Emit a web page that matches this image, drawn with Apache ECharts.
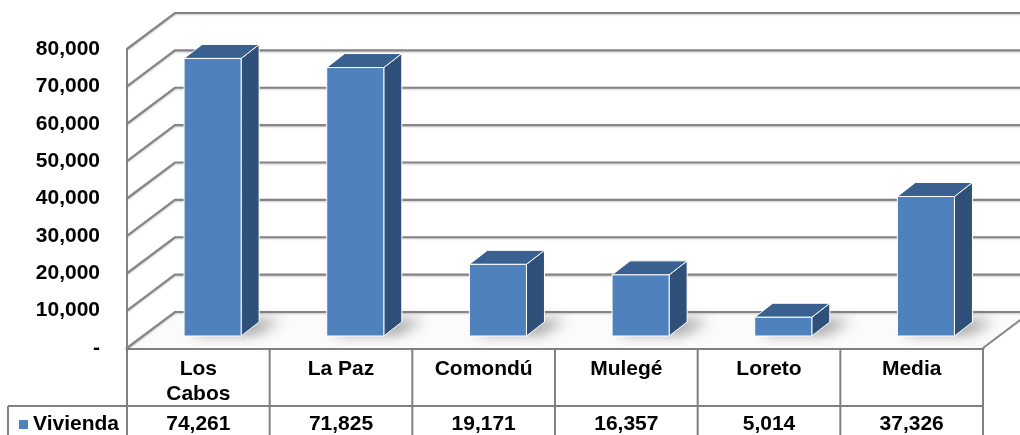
<!DOCTYPE html>
<html>
<head>
<meta charset="utf-8">
<script src="https://cdn.jsdelivr.net/npm/echarts@6/dist/echarts.min.js"></script>
<style>
html,body{margin:0;padding:0;background:#fff}
#main{width:1020px;height:435px}
</style>
</head>
<body>
<div id="main"></div>
<script>
// datos
const categories = ['Los Cabos', 'La Paz', 'Comondú', 'Mulegé', 'Loreto', 'Media'];
const vivienda = [74261, 71825, 19171, 16357, 5014, 37326];
const yTicks = [0, 10000, 20000, 30000, 40000, 50000, 60000, 70000, 80000];
const seriesName = 'Vivienda';

const FONT = "'Liberation Sans', Arial, sans-serif";
const GRID_COLOR = '#858585';
// profundidad de las paredes (efecto 3D)
const WALL_DX = 48, WALL_DY = -36;
// profundidad de las barras
const BAR_DX = 18, BAR_DY = -14, BAR_SHIFT = 12;

const fmt = v => v.toLocaleString('en-US');

const chart = echarts.init(document.getElementById('main'));

// paredes y piso
function renderWalls(params, api) {
    const cs = params.coordSys;
    const v = api.value(1);
    const y = api.coord([0, v])[1];
    const gx = cs.x;
    const right = cs.x + cs.width;
    const children = [];
    if (v === 0) {
        children.push({
            type: 'polygon',
            shape: {points: [[gx, y], [right, y], [right + WALL_DX, y + WALL_DY], [gx + WALL_DX, y + WALL_DY]]},
            style: {fill: '#fbfbfb'}
        });
        children.push({
            type: 'line',
            shape: {x1: right, y1: y, x2: right + WALL_DX, y2: y + WALL_DY},
            style: {stroke: GRID_COLOR, lineWidth: 2}
        });
    }
    children.push({
        type: 'polyline',
        shape: {points: [[gx, y], [gx + WALL_DX, y + WALL_DY], [right + WALL_DX, y + WALL_DY]]},
        style: {
            stroke: GRID_COLOR, lineWidth: 2.2, fill: null,
            shadowColor: 'rgba(0,0,0,0.2)', shadowBlur: 2, shadowOffsetY: 1
        }
    });
    return {type: 'group', children: children};
}

// barras 3D
function renderBar(params, api) {
    const i = api.value(0);
    const v = api.value(1);
    const top = api.coord([i, v]);
    const base = api.coord([i, 0]);
    const w = api.size([1, 0])[0];
    const x0 = base[0] - w * 0.1;
    const x1 = x0 + w * 0.4;
    const y0 = base[1] - BAR_SHIFT;
    const y1 = top[1] - BAR_SHIFT;
    const edge = {stroke: '#ffffff', lineWidth: 1};
    const OFF = 3000;
    return {
        type: 'group',
        children: [
            {
                // sombra difusa sobre el piso
                type: 'polygon',
                shape: {points: [
                    [x0 + 6 - OFF, y0 - 2], [x1 + 14 - OFF, y0 - 2],
                    [x1 + BAR_DX + 22 - OFF, y0 + BAR_DY - 2], [x0 + BAR_DX + 6 - OFF, y0 + BAR_DY - 2]
                ]},
                style: {fill: '#000', shadowBlur: 14, shadowColor: 'rgba(0,0,0,0.4)', shadowOffsetX: OFF}
            },
            {
                type: 'polygon',
                shape: {points: [[x1, y0], [x1 + BAR_DX, y0 + BAR_DY], [x1 + BAR_DX, y1 + BAR_DY], [x1, y1]]},
                style: Object.assign({fill: '#2f5079'}, edge)
            },
            {
                type: 'polygon',
                shape: {points: [[x0, y1], [x1, y1], [x1 + BAR_DX, y1 + BAR_DY], [x0 + BAR_DX, y1 + BAR_DY]]},
                style: Object.assign({fill: '#3a6090'}, edge)
            },
            {
                type: 'rect',
                shape: {x: x0, y: y1, width: x1 - x0, height: y0 - y1},
                style: Object.assign({fill: '#4f81bd'}, edge)
            }
        ]
    };
}

// tabla de datos
function renderTable(params, api) {
    const cs = params.coordSys;
    const i = api.value(0);
    const v = api.value(1);
    const c = api.coord([i, 0]);
    const w = api.size([1, 0])[0];
    const left = c[0] - w / 2;
    const yTop = cs.y + cs.height;
    const yMid = yTop + 58;
    const yBot = 436;
    const line = {stroke: '#808080', lineWidth: 2};
    const children = [
        {type: 'line', shape: {x1: left, y1: yTop, x2: left, y2: yBot}, style: line},
        {
            type: 'text',
            style: {
                text: fmt(v), x: c[0], y: yMid + 18, align: 'center', verticalAlign: 'middle',
                font: 'bold 21px ' + FONT, fill: '#000'
            }
        }
    ];
    if (i === categories.length - 1) {
        children.push({type: 'line', shape: {x1: left + w, y1: yTop, x2: left + w, y2: yBot}, style: line});
    }
    if (i === 0) {
        children.push({type: 'line', shape: {x1: 8, y1: yMid, x2: cs.x + cs.width, y2: yMid}, style: line});
        children.push({type: 'line', shape: {x1: 8, y1: yMid, x2: 8, y2: yBot}, style: line});
    }
    return {type: 'group', children: children};
}

const option = {
    backgroundColor: '#ffffff',
    animation: false,
    textStyle: {fontFamily: FONT},
    legend: {
        data: [{name: seriesName, icon: 'rect'}],
        left: 14,
        top: 409,
        itemWidth: 9,
        itemHeight: 9,
        itemGap: 0,
        textStyle: {fontSize: 21, fontWeight: 'bold', color: '#000', fontFamily: FONT},
        selectedMode: false
    },
    grid: {left: 127, right: 37, top: 49, bottom: 87, outerBoundsMode: 'none'},
    xAxis: {
        type: 'category',
        data: categories,
        axisLine: {lineStyle: {color: '#808080', width: 3}},
        axisTick: {show: false},
        axisLabel: {
            fontSize: 21, fontWeight: 'bold', color: '#000', fontFamily: FONT,
            margin: 9, lineHeight: 25, interval: 0,
            formatter: v => v.length > 7 ? v.replace(' ', '\n') : v
        },
        splitLine: {show: false}
    },
    yAxis: {
        type: 'value',
        min: 0,
        max: 80000,
        interval: 10000,
        axisLine: {show: true, lineStyle: {color: GRID_COLOR, width: 2}},
        axisTick: {show: false},
        splitLine: {show: false},
        axisLabel: {
            fontSize: 21, fontWeight: 'bold', color: '#000', fontFamily: FONT, margin: 27,
            padding: [6, 0, 0, 0],
            formatter: v => v === 0 ? '-' : fmt(v)
        }
    },
    series: [
        {
            name: 'walls',
            type: 'custom',
            clip: false,
            silent: true,
            renderItem: renderWalls,
            data: yTicks.map(v => [0, v]),
            encode: {x: 0, y: 1},
            z: 1
        },
        {
            name: seriesName,
            type: 'custom',
            clip: false,
            renderItem: renderBar,
            itemStyle: {color: '#4f81bd'},
            data: vivienda.map((v, i) => [i, v]),
            encode: {x: 0, y: 1},
            z: 2
        },
        {
            name: 'tabla',
            type: 'custom',
            clip: false,
            silent: true,
            renderItem: renderTable,
            data: vivienda.map((v, i) => [i, v]),
            encode: {x: 0, y: 1},
            z: 3
        }
    ]
};

chart.setOption(option);
</script>
</body>
</html>
